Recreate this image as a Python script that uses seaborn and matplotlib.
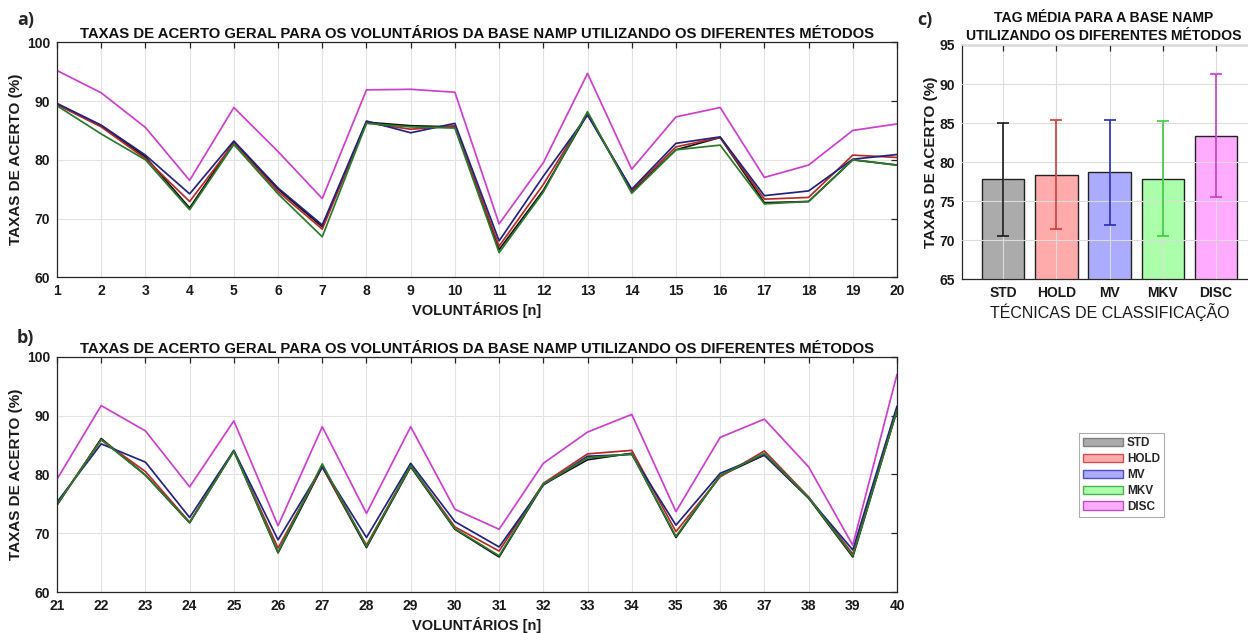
import numpy as np
import pandas as pd
import matplotlib
matplotlib.use("Agg")
import matplotlib.pyplot as plt
from matplotlib.patches import Patch
import seaborn as sns

# ---- data -------------------------------------------------------------
voluntarios = list(range(1, 41))

std_vals = [89.4, 85.8, 80.5, 71.8, 83.0, 75.0, 68.6, 86.4, 85.8, 85.6,
            64.7, 74.8, 87.8, 74.6, 81.7, 83.8, 72.7, 72.9, 80.0, 79.1,
            74.8, 86.1, 79.9, 71.8, 84.0, 66.7, 81.3, 67.6, 81.3, 70.7,
            66.0, 78.3, 82.5, 83.6, 69.3, 79.8, 83.3, 76.0, 66.0, 90.9]
hold_vals = [89.4, 85.6, 80.2, 72.9, 82.8, 74.6, 68.2, 86.3, 85.2, 85.8,
             65.3, 75.8, 87.9, 74.8, 82.2, 83.8, 73.3, 73.6, 80.8, 80.4,
             75.0, 85.9, 80.5, 71.9, 84.0, 67.5, 81.3, 68.0, 81.5, 71.1,
             67.0, 78.5, 83.5, 84.1, 70.3, 79.6, 84.0, 76.2, 66.5, 91.0]
mv_vals = [89.6, 85.9, 80.8, 74.2, 83.2, 75.2, 68.9, 86.6, 84.6, 86.2,
           66.2, 77.2, 87.6, 75.0, 82.8, 83.9, 73.9, 74.7, 80.1, 80.9,
           75.3, 85.2, 82.1, 72.7, 84.1, 68.9, 81.3, 69.3, 81.9, 72.0,
           67.7, 78.2, 83.1, 83.4, 71.4, 80.2, 83.3, 76.0, 67.2, 91.6]
mkv_vals = [89.2, 84.4, 80.0, 71.5, 82.6, 74.2, 66.9, 86.2, 85.6, 85.4,
            64.2, 74.5, 88.2, 74.3, 81.7, 82.5, 72.5, 72.9, 80.0, 79.1,
            74.9, 85.9, 79.9, 71.8, 84.0, 66.8, 81.8, 67.8, 81.5, 70.8,
            66.2, 78.4, 82.8, 83.5, 69.5, 79.8, 83.6, 76.1, 66.2, 90.9]
disc_vals = [95.2, 91.4, 85.5, 76.5, 88.9, 81.4, 73.4, 91.9, 92.0, 91.5,
             69.1, 79.5, 94.7, 78.4, 87.3, 88.9, 77.0, 79.1, 85.0, 86.1,
             79.2, 91.7, 87.4, 77.9, 89.1, 71.3, 88.1, 73.4, 88.1, 74.1,
             70.7, 81.9, 87.2, 90.2, 73.7, 86.3, 89.4, 81.3, 68.0, 97.0]

metodos = ["STD", "HOLD", "MV", "MKV", "DISC"]
tag_media = [77.8, 78.4, 78.7, 77.9, 83.4]
tag_desvio = [7.25, 7.0, 6.7, 7.35, 7.9]

# ---- styling ----------------------------------------------------------
sns.set_style("white")
plt.rcParams["font.family"] = ["Liberation Sans", "DejaVu Sans"]
plt.rcParams["font.weight"] = "bold"

line_colors = {"STD": "#111111", "HOLD": "#b82a2a", "MV": "#23237e",
               "MKV": "#2a7a2a", "DISC": "#cc3fcc"}
base_rgb = {"STD": (0, 0, 0), "HOLD": (1, 0, 0), "MV": (0, 0, 1),
            "MKV": (0, 1, 0), "DISC": (1, 0, 1)}
err_colors = {"STD": "#1a1a1a", "HOLD": "#d03a3a", "MV": "#2a2ab8",
              "MKV": "#3ccc3c", "DISC": "#c83cc8"}
legend_edges = {"STD": "#808080", "HOLD": "#d05050", "MV": "#5050c0",
                "MKV": "#50b050", "DISC": "#c050c0"}


def tint(rgb, a=0.33):
    return tuple(1 - a + a * c for c in rgb)


series = {"STD": std_vals, "HOLD": hold_vals, "MV": mv_vals,
          "MKV": mkv_vals, "DISC": disc_vals}
df = pd.DataFrame([
    {"voluntario": v, "taxa": series[m][i], "metodo": m}
    for m in metodos for i, v in enumerate(voluntarios)
])

W, H = 1248, 633
fig = plt.figure(figsize=(W / 100, H / 100), dpi=100)


def px_axes(left, top, right, bottom):
    return fig.add_axes([left / W, 1 - bottom / H, (right - left) / W,
                         (bottom - top) / H])


def style_axes(ax):
    for s in ax.spines.values():
        s.set_color("#262626")
        s.set_linewidth(0.9)
    ax.tick_params(direction="in", length=4, width=0.9, color="#262626",
                   top=True, right=True, labelsize=10, pad=5,
                   labelcolor="#1a1a1a")
    for lab in ax.get_xticklabels() + ax.get_yticklabels():
        lab.set_fontweight("bold")
    ax.grid(True, color="#e3e3e3", linewidth=0.8)
    ax.set_axisbelow(True)


titulo = ("TAXAS DE ACERTO GERAL PARA OS VOLUNTÁRIOS DA BASE NAMP "
          "UTILIZANDO OS DIFERENTES MÉTODOS")

panels = [((57, 42.3, 897, 277.3), 1, 20, "a)", 20),
          ((57, 356.7, 897, 592.3), 21, 40, "b)", 338)]
for (l, t, r, b), x0, x1, tag, tag_y in panels:
    ax = px_axes(l, t, r, b)
    sub = df[(df.voluntario >= x0) & (df.voluntario <= x1)]
    sns.lineplot(data=sub, x="voluntario", y="taxa", hue="metodo",
                 hue_order=metodos, palette=line_colors, linewidth=1.25,
                 legend=False, ax=ax)
    ax.set_xlim(x0, x1)
    ax.set_ylim(60, 100)
    ax.set_xticks(list(range(x0, x1 + 1)))
    ax.set_yticks([60, 70, 80, 90, 100])
    style_axes(ax)
    ax.set_xlabel("VOLUNTÁRIOS [n]", fontsize=10.5, fontweight="bold",
                  labelpad=3, color="#1a1a1a")
    ax.set_ylabel("TAXAS DE ACERTO (%)", fontsize=11, fontweight="bold",
                  labelpad=3, color="#1a1a1a")
    ax.set_title(titulo, fontsize=10.7, fontweight="bold", pad=3,
                 color="#111111")
    fig.text(17 / W, 1 - tag_y / H, tag, fontsize=13, fontweight="bold",
             va="center", ha="left", family=["Open Sans", "DejaVu Sans"])

# ---- panel c: mean rate per method -----------------------------------
axc = px_axes(961.7, 45, 1257.4, 279.3)
bar_df = pd.DataFrame({"metodo": metodos, "media": tag_media})
sns.barplot(data=bar_df, x="metodo", y="media", order=metodos,
            color="#aaaaaa", width=0.8, edgecolor="#222222", linewidth=1.0,
            errorbar=None, ax=axc)
for patch, m in zip(axc.patches, metodos):
    patch.set_facecolor(tint(base_rgb[m]))
for i, m in enumerate(metodos):
    axc.errorbar(i, tag_media[i], yerr=tag_desvio[i], fmt="none",
                 ecolor=err_colors[m], elinewidth=1.2, capsize=4.5,
                 capthick=1.2, zorder=5)
axc.set_xlim(-0.775, 4.775)
axc.set_ylim(65, 95)
axc.set_yticks([65, 70, 75, 80, 85, 90, 95])
style_axes(axc)
axc.grid(True, color="#dcdcdc", linewidth=0.8)
axc.set_axisbelow(False)
for gl in axc.get_xgridlines() + axc.get_ygridlines():
    gl.set_zorder(0.5)
for p in axc.patches:
    p.set_zorder(1)
axc.set_xlabel("TÉCNICAS DE CLASSIFICAÇÃO", fontsize=11.5,
               fontweight="normal", labelpad=2, color="#1a1a1a")
axc.set_ylabel("TAXAS DE ACERTO (%)", fontsize=11, fontweight="bold",
               labelpad=1, color="#1a1a1a")
# two-line title kept inside the figure's right edge
fig.text(1104 / W, 1 - 27 / H,
         "TAG MÉDIA PARA A BASE NAMP\nUTILIZANDO OS DIFERENTES MÉTODOS",
         fontsize=10.1, fontweight="bold", ha="center", va="center",
         linespacing=1.35, color="#111111", multialignment="center")
fig.text(917 / W, 1 - 20 / H, "c)", fontsize=13, fontweight="bold",
         va="center", ha="left", family=["Open Sans", "DejaVu Sans"])

handles = [Patch(facecolor=tint(base_rgb[m]), edgecolor=legend_edges[m],
                 linewidth=1.0, label=m) for m in metodos]
leg = fig.legend(handles=handles, loc="upper left",
                 bbox_to_anchor=(1079 / W, 1 - 433 / H), frameon=True,
                 fancybox=False, fontsize=8.5, handlelength=3.4,
                 handleheight=0.7, labelspacing=0.33, handletextpad=0.3,
                 borderpad=0.35, borderaxespad=0)
leg.get_frame().set_edgecolor("#9a9a9a")
leg.get_frame().set_linewidth(0.8)
for t in leg.get_texts():
    t.set_fontweight("bold")

fig.savefig("out.png", dpi=100, facecolor="white")
